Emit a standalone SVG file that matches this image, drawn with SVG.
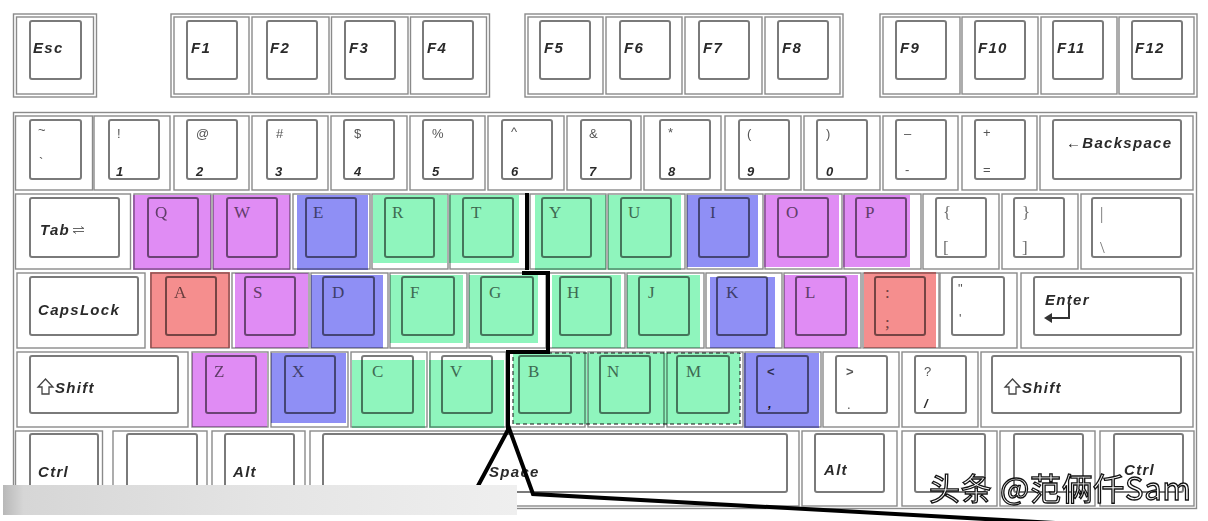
<svg xmlns="http://www.w3.org/2000/svg" width="1208" height="521" viewBox="0 0 1208 521">
<defs>
<style>
.g{fill:#fff;stroke:#8a8a8a;stroke-width:1.4}
.o{fill:#fff;stroke:#8a8a8a;stroke-width:1.4}
.c{fill:#fff;stroke:#7a7a7a;stroke-width:2}
.kl{font-family:"Liberation Sans",Arial,sans-serif;font-weight:bold;font-style:italic;font-size:15px;letter-spacing:1.3px;fill:#2a2a2a}
.nm{font-family:"Liberation Sans",Arial,sans-serif;font-weight:bold;font-style:italic;font-size:13px;fill:#2a2a2a}
.sy{font-family:"Liberation Sans",Arial,sans-serif;font-size:13px;fill:#555}
.lt{font-family:"Liberation Serif","Times New Roman",serif;font-size:17px;fill:#6e6e6e}
.ov{mix-blend-mode:multiply}
.pu{fill:#e08cf4}.bl{fill:#8f8ff5}.gr{fill:#8ff5bd}.rd{fill:#f58e8e}
.ln{fill:none;stroke:#000;stroke-width:4;stroke-linejoin:miter}
.ic{fill:none;stroke:#444;stroke-width:1.3}
</style>
<linearGradient id="bar" x1="0" x2="1" y1="0" y2="0">
<stop offset="0" stop-color="#b8b8b8"/>
<stop offset="0.04" stop-color="#d6d6d6"/>
<stop offset="0.5" stop-color="#e4e4e4"/>
<stop offset="1" stop-color="#efefef"/>
</linearGradient>
</defs>
<rect width="1208" height="521" fill="#fff"/>

<!-- Function row -->
<g id="key-esc"><rect class="g" x="13.5" y="14" width="83" height="83"/><rect class="o" x="16.5" y="17" width="77" height="77"/><rect class="c" x="30" y="21" width="51" height="58" rx="2"/><text class="kl" x="33" y="53">Esc</text></g>

<g id="fgroup1"><rect class="g" x="171" y="14" width="318.5" height="83"/>
<g id="key-f1"><rect class="o" x="174" y="17" width="75" height="77"/><rect class="c" x="187" y="21" width="50" height="58" rx="2"/><text class="kl" x="191" y="53">F1</text></g>
<g id="key-f2"><rect class="o" x="252" y="17" width="77" height="77"/><rect class="c" x="267" y="21" width="50" height="58" rx="2"/><text class="kl" x="270" y="53">F2</text></g>
<g id="key-f3"><rect class="o" x="331.5" y="17" width="76.5" height="77"/><rect class="c" x="345" y="21" width="50" height="58" rx="2"/><text class="kl" x="349" y="53">F3</text></g>
<g id="key-f4"><rect class="o" x="410.5" y="17" width="76" height="77"/><rect class="c" x="423" y="21" width="50" height="58" rx="2"/><text class="kl" x="427" y="53">F4</text></g>
</g>

<g id="fgroup2"><rect class="g" x="525" y="14" width="318" height="83"/>
<g id="key-f5"><rect class="o" x="528" y="17" width="75" height="77"/><rect class="c" x="540" y="21" width="50" height="58" rx="2"/><text class="kl" x="544" y="53">F5</text></g>
<g id="key-f6"><rect class="o" x="606" y="17" width="76" height="77"/><rect class="c" x="620" y="21" width="50" height="58" rx="2"/><text class="kl" x="624" y="53">F6</text></g>
<g id="key-f7"><rect class="o" x="685" y="17" width="77" height="77"/><rect class="c" x="699" y="21" width="50" height="58" rx="2"/><text class="kl" x="703" y="53">F7</text></g>
<g id="key-f8"><rect class="o" x="765" y="17" width="75" height="77"/><rect class="c" x="778" y="21" width="50" height="58" rx="2"/><text class="kl" x="782" y="53">F8</text></g>
</g>

<g id="fgroup3"><rect class="g" x="880" y="14" width="317" height="83"/>
<g id="key-f9"><rect class="o" x="883" y="17" width="77" height="77"/><rect class="c" x="896" y="21" width="50" height="58" rx="2"/><text class="kl" x="900" y="53">F9</text></g>
<g id="key-f10"><rect class="o" x="962" y="17" width="76" height="77"/><rect class="c" x="975" y="21" width="50" height="58" rx="2"/><text class="kl" x="978" y="53">F10</text></g>
<g id="key-f11"><rect class="o" x="1041" y="17" width="76" height="77"/><rect class="c" x="1053" y="21" width="50" height="58" rx="2"/><text class="kl" x="1057" y="53">F11</text></g>
<g id="key-f12"><rect class="o" x="1119" y="17" width="75" height="77"/><rect class="c" x="1132" y="21" width="50" height="58" rx="2"/><text class="kl" x="1135" y="53">F12</text></g>
</g>

<!-- Main block -->
<g id="mainblock"><rect class="g" x="13.5" y="112.5" width="1183" height="396"/></g>

<!-- Number row -->
<g id="key-tilde"><rect class="o" x="15.5" y="116" width="77" height="74"/><rect class="c" x="30" y="120" width="51" height="59" rx="2"/><text class="sy" x="38" y="134" font-size="11">~</text><text class="sy" x="39" y="167" font-size="9">`</text></g>
<g id="key-1"><rect class="o" x="94" y="116" width="76" height="74"/><rect class="c" x="109" y="120" width="50" height="59" rx="2"/><text class="sy" x="117" y="138">!</text><text class="nm" x="116" y="176">1</text></g>
<g id="key-2"><rect class="o" x="174" y="116" width="75" height="74"/><rect class="c" x="187" y="120" width="50" height="59" rx="2"/><text class="sy" x="196" y="138">@</text><text class="nm" x="196" y="176">2</text></g>
<g id="key-3"><rect class="o" x="252" y="116" width="76" height="74"/><rect class="c" x="267" y="120" width="50" height="59" rx="2"/><text class="sy" x="276" y="138">#</text><text class="nm" x="275" y="176">3</text></g>
<g id="key-4"><rect class="o" x="331" y="116" width="76" height="74"/><rect class="c" x="344" y="120" width="50" height="59" rx="2"/><text class="sy" x="354" y="138">$</text><text class="nm" x="354" y="176">4</text></g>
<g id="key-5"><rect class="o" x="410" y="116" width="75" height="74"/><rect class="c" x="423" y="120" width="50" height="59" rx="2"/><text class="sy" x="432" y="138">%</text><text class="nm" x="432" y="176">5</text></g>
<g id="key-6"><rect class="o" x="488" y="116" width="76" height="74"/><rect class="c" x="502" y="120" width="50" height="59" rx="2"/><text class="sy" x="511" y="136" font-size="11">^</text><text class="nm" x="511" y="176">6</text></g>
<g id="key-7"><rect class="o" x="567" y="116" width="74" height="74"/><rect class="c" x="581" y="120" width="50" height="59" rx="2"/><text class="sy" x="589" y="138">&amp;</text><text class="nm" x="589" y="176">7</text></g>
<g id="key-8"><rect class="o" x="644" y="116" width="77" height="74"/><rect class="c" x="660" y="120" width="50" height="59" rx="2"/><text class="sy" x="668" y="137" font-size="10">*</text><text class="nm" x="668" y="176">8</text></g>
<g id="key-9"><rect class="o" x="725" y="116" width="76" height="74"/><rect class="c" x="739" y="120" width="50" height="59" rx="2"/><text class="sy" x="747" y="138">(</text><text class="nm" x="747" y="176">9</text></g>
<g id="key-0"><rect class="o" x="804" y="116" width="76" height="74"/><rect class="c" x="817" y="120" width="50" height="59" rx="2"/><text class="sy" x="826" y="138">)</text><text class="nm" x="826" y="176">0</text></g>
<g id="key-minus"><rect class="o" x="883" y="116" width="75" height="74"/><rect class="c" x="896" y="120" width="50" height="59" rx="2"/><text class="sy" x="904" y="138">–</text><text class="sy" x="905" y="174">-</text></g>
<g id="key-equal"><rect class="o" x="962" y="116" width="75" height="74"/><rect class="c" x="975" y="120" width="50" height="59" rx="2"/><text class="sy" x="983" y="137" font-size="12">+</text><text class="sy" x="983" y="174" font-size="12">=</text></g>
<g id="key-backspace"><rect class="o" x="1040" y="116" width="153" height="74"/><rect class="c" x="1053" y="120" width="128" height="59" rx="2"/><text class="kl" x="1066" y="148" font-size="12" letter-spacing="0.8"><tspan font-weight="normal" font-style="normal">←</tspan>Backspace</text></g>

<!-- Tab row -->
<g id="key-tab"><rect class="o" x="15.5" y="194" width="115" height="75"/><rect class="c" x="30" y="198" width="89" height="59" rx="2"/><text class="kl" x="40" y="235">Tab</text><path d="M73,228.5 h11 M81,226.5 l3,2 M73,231.5 h11 M76,233.5 l-3,-2" fill="none" stroke="#666" stroke-width="1"/></g>
<g id="key-q"><rect class="o" x="134" y="194" width="77" height="75"/><rect class="c" x="148" y="198" width="50" height="59" rx="2"/><text class="lt" x="155" y="218">Q</text><rect class="ov pu" x="133" y="195" width="78" height="75"/></g>
<g id="key-w"><rect class="o" x="213" y="194" width="77" height="75"/><rect class="c" x="227" y="198" width="50" height="59" rx="2"/><text class="lt" x="234" y="218">W</text><rect class="ov pu" x="213" y="195" width="77" height="75"/></g>
<g id="key-e"><rect class="o" x="293" y="194" width="77" height="75"/><rect class="c" x="306" y="198" width="50" height="59" rx="2"/><text class="lt" x="313" y="218">E</text><rect class="ov bl" x="297" y="195" width="71" height="75"/></g>
<g id="key-r"><rect class="o" x="372" y="194" width="76" height="75"/><rect class="c" x="385" y="198" width="49" height="59" rx="2"/><text class="lt" x="392" y="218">R</text><rect class="ov gr" x="373" y="195" width="74" height="68"/></g>
<g id="key-t"><rect class="o" x="450" y="194" width="77" height="75"/><rect class="c" x="463" y="198" width="50" height="59" rx="2"/><text class="lt" x="471" y="218">T</text><rect class="ov gr" x="449" y="195" width="70" height="68"/></g>
<g id="key-y"><rect class="o" x="530" y="194" width="76" height="75"/><rect class="c" x="542" y="198" width="49" height="59" rx="2"/><text class="lt" x="549" y="218">Y</text><rect class="ov gr" x="535" y="195" width="71" height="75"/></g>
<g id="key-u"><rect class="o" x="608" y="194" width="77" height="75"/><rect class="c" x="621" y="198" width="50" height="59" rx="2"/><text class="lt" x="628" y="218">U</text><rect class="ov gr" x="608" y="195" width="73" height="75"/></g>
<g id="key-i"><rect class="o" x="687" y="194" width="76" height="75"/><rect class="c" x="699" y="198" width="50" height="59" rx="2"/><text class="lt" x="710" y="218">I</text><rect class="ov bl" x="687" y="195" width="71" height="72"/></g>
<g id="key-o"><rect class="o" x="765" y="194" width="77" height="75"/><rect class="c" x="778" y="198" width="50" height="59" rx="2"/><text class="lt" x="786" y="218">O</text><rect class="ov pu" x="764" y="195" width="75" height="72"/></g>
<g id="key-p"><rect class="o" x="844" y="194" width="77" height="75"/><rect class="c" x="856" y="198" width="50" height="59" rx="2"/><text class="lt" x="865" y="218">P</text><rect class="ov pu" x="843" y="195" width="67" height="72"/></g>
<g id="key-lbrace"><rect class="o" x="923" y="194" width="76" height="75"/><rect class="c" x="936" y="198" width="50" height="59" rx="2"/><text class="lt" x="943" y="218">{</text><text class="lt" x="943" y="253">[</text></g>
<g id="key-rbrace"><rect class="o" x="1002" y="194" width="76" height="75"/><rect class="c" x="1014" y="198" width="50" height="59" rx="2"/><text class="lt" x="1022" y="218">}</text><text class="lt" x="1022" y="253">]</text></g>
<g id="key-pipe"><rect class="o" x="1081" y="194" width="112" height="75"/><rect class="c" x="1092" y="198" width="89" height="59" rx="2"/><text class="lt" x="1100" y="219">|</text><text class="lt" x="1100" y="253">\</text></g>

<!-- Caps row -->
<g id="key-caps"><rect class="o" x="17" y="273" width="128" height="75"/><rect class="c" x="30" y="277" width="108" height="58" rx="2"/><text class="kl" x="38" y="315" font-size="16" letter-spacing="0.8">CapsLock</text></g>
<g id="key-a"><rect class="o" x="151" y="273" width="78" height="75"/><rect class="c" x="166" y="277" width="50" height="58" rx="2"/><text class="lt" x="174" y="298">A</text><rect class="ov rd" x="150" y="272" width="80" height="76"/></g>
<g id="key-s"><rect class="o" x="232" y="273" width="77" height="75"/><rect class="c" x="245" y="277" width="50" height="58" rx="2"/><text class="lt" x="253" y="298">S</text><rect class="ov pu" x="235" y="273" width="73" height="75"/></g>
<g id="key-d"><rect class="o" x="311" y="273" width="77" height="75"/><rect class="c" x="323" y="277" width="51" height="58" rx="2"/><text class="lt" x="332" y="298">D</text><rect class="ov bl" x="311" y="275" width="72" height="73"/></g>
<g id="key-f"><rect class="o" x="390" y="273" width="77" height="75"/><rect class="c" x="402" y="277" width="52" height="58" rx="2"/><text class="lt" x="410" y="298">F</text><rect class="ov gr" x="390" y="275" width="73" height="68"/></g>
<g id="key-g"><rect class="o" x="469" y="273" width="77" height="75"/><rect class="c" x="481" y="277" width="52" height="58" rx="2"/><text class="lt" x="489" y="298">G</text><rect class="ov gr" x="469" y="275" width="69" height="68"/></g>
<g id="key-h"><rect class="o" x="549" y="273" width="76" height="75"/><rect class="c" x="560" y="277" width="51" height="58" rx="2"/><text class="lt" x="567" y="298">H</text><rect class="ov gr" x="552" y="275" width="69" height="73"/></g>
<g id="key-j"><rect class="o" x="627" y="273" width="77" height="75"/><rect class="c" x="639" y="277" width="50" height="58" rx="2"/><text class="lt" x="648" y="298">J</text><rect class="ov gr" x="627" y="275" width="73" height="73"/></g>
<g id="key-k"><rect class="o" x="706" y="273" width="76" height="75"/><rect class="c" x="717" y="277" width="50" height="58" rx="2"/><text class="lt" x="726" y="298">K</text><rect class="ov bl" x="710" y="277" width="65" height="71"/></g>
<g id="key-l"><rect class="o" x="784" y="273" width="77" height="75"/><rect class="c" x="796" y="277" width="50" height="58" rx="2"/><text class="lt" x="805" y="298">L</text><rect class="ov pu" x="784" y="275" width="74" height="73"/></g>
<g id="key-semicolon"><rect class="o" x="863" y="273" width="76" height="75"/><rect class="c" x="875" y="277" width="50" height="58" rx="2"/><text class="lt" x="885" y="298" font-size="14">:</text><text class="lt" x="885" y="328" font-size="14">;</text><rect class="ov rd" x="864" y="272" width="72" height="76"/></g>
<g id="key-quote"><rect class="o" x="940" y="273" width="77" height="75"/><rect class="c" x="952" y="277" width="52" height="58" rx="2"/><text class="sy" x="958" y="293" font-size="10">"</text><text class="sy" x="959" y="323" font-size="10">'</text></g>
<g id="key-enter"><rect class="o" x="1021" y="273" width="172" height="75"/><rect class="c" x="1034" y="277" width="147" height="58" rx="2"/><text class="kl" x="1045" y="305" font-size="16" letter-spacing="1">Enter</text><path d="M1069,304 V318 H1050" fill="none" stroke="#333" stroke-width="2"/><path d="M1044,318 L1052,313 L1052,323 Z" fill="#333"/></g>

<!-- Shift row -->
<g id="key-lshift"><rect class="o" x="17" y="352" width="171" height="75"/><rect class="c" x="30" y="356" width="148" height="57" rx="2"/><path class="ic" d="M45.5,379 L53,387 L49,387 L49,394 L42,394 L42,387 L38,387 Z"/><text class="kl" x="55" y="393" font-size="16" letter-spacing="1">Shift</text></g>
<g id="key-z"><rect class="o" x="192" y="352" width="76" height="75"/><rect class="c" x="206" y="356" width="50" height="57" rx="2"/><text class="lt" x="214" y="377">Z</text><rect class="ov pu" x="192" y="353" width="75" height="74"/></g>
<g id="key-x"><rect class="o" x="271" y="352" width="77" height="75"/><rect class="c" x="285" y="356" width="50" height="57" rx="2"/><text class="lt" x="292" y="377">X</text><rect class="ov bl" x="271" y="353" width="75" height="70"/></g>
<g id="key-c"><rect class="o" x="351" y="352" width="76" height="75"/><rect class="c" x="362" y="356" width="51" height="57" rx="2"/><text class="lt" x="372" y="377">C</text><rect class="ov gr" x="352" y="360" width="73" height="68"/></g>
<g id="key-v"><rect class="o" x="430" y="352" width="76" height="75"/><rect class="c" x="442" y="356" width="50" height="57" rx="2"/><text class="lt" x="450" y="377">V</text><rect class="ov gr" x="429" y="360" width="75" height="68"/></g>
<g id="key-b"><rect class="o" x="509" y="352" width="76" height="75"/><rect class="c" x="519" y="356" width="52" height="57" rx="2"/><text class="lt" x="528" y="377">B</text><rect class="ov gr" x="513" y="353" width="75" height="71"/></g>
<g id="key-n"><rect class="o" x="588" y="352" width="76" height="75"/><rect class="c" x="600" y="356" width="50" height="57" rx="2"/><text class="lt" x="607" y="377">N</text><rect class="ov gr" x="588" y="353" width="77" height="71"/></g>
<g id="key-m"><rect class="o" x="667" y="352" width="76" height="75"/><rect class="c" x="677" y="356" width="52" height="57" rx="2"/><text class="lt" x="686" y="377">M</text><rect class="ov gr" x="665" y="353" width="75" height="71"/></g>
<g id="key-comma"><rect class="o" x="745" y="352" width="76" height="75"/><rect class="c" x="757" y="356" width="51" height="57" rx="2"/><text class="sy" x="767" y="376" font-weight="bold">&lt;</text><text class="nm" x="768" y="408">,</text><rect class="ov bl" x="744" y="353" width="75" height="75"/></g>
<g id="key-period"><rect class="o" x="823" y="352" width="76" height="75"/><rect class="c" x="836" y="356" width="51" height="57" rx="2"/><text class="sy" x="846" y="376" font-weight="bold">&gt;</text><text class="sy" x="847" y="409">.</text></g>
<g id="key-slash"><rect class="o" x="902" y="352" width="76" height="75"/><rect class="c" x="915" y="356" width="51" height="57" rx="2"/><text class="sy" x="924" y="376">?</text><text class="nm" x="924" y="408" font-weight="normal">/</text></g>
<g id="key-rshift"><rect class="o" x="981" y="352" width="212" height="75"/><rect class="c" x="992" y="356" width="189" height="57" rx="2"/><path class="ic" d="M1012.5,379 L1020,387 L1016,387 L1016,394 L1009,394 L1009,387 L1005,387 Z"/><text class="kl" x="1022" y="393" font-size="16" letter-spacing="1">Shift</text></g>

<!-- Bottom row -->
<g id="key-lctrl"><rect class="o" x="15.5" y="431" width="87" height="75"/><rect class="c" x="30" y="434" width="68" height="58" rx="2"/><text class="kl" x="38" y="477">Ctrl</text></g>
<g id="key-lwin"><rect class="o" x="113" y="431" width="94" height="75"/><rect class="c" x="127" y="434" width="70" height="58" rx="2"/></g>
<g id="key-lalt"><rect class="o" x="212" y="431" width="93" height="75"/><rect class="c" x="225" y="434" width="69" height="58" rx="2"/><text class="kl" x="233" y="477">Alt</text></g>
<g id="key-space"><rect class="o" x="310" y="431" width="489" height="75"/><rect class="c" x="323" y="434" width="464" height="58" rx="2"/><text class="kl" x="489" y="477" font-size="16">Space</text></g>
<g id="key-ralt"><rect class="o" x="802" y="431" width="95" height="75"/><rect class="c" x="815" y="434" width="69" height="58" rx="2"/><text class="kl" x="824" y="475">Alt</text></g>
<g id="key-rwin"><rect class="o" x="902" y="431" width="95" height="75"/><rect class="c" x="915" y="434" width="70" height="58" rx="2"/></g>
<g id="key-menu"><rect class="o" x="1000" y="431" width="95" height="75"/><rect class="c" x="1014" y="434" width="69" height="58" rx="2"/></g>
<g id="key-rctrl"><rect class="o" x="1100" y="431" width="94" height="75"/><rect class="c" x="1114" y="434" width="69" height="58" rx="2"/><text class="kl" x="1124" y="475">Ctrl</text></g>

<!-- Dashed selection -->
<g id="selection"><rect x="513" y="353" width="227" height="71" fill="none" stroke="#111" stroke-width="1" stroke-dasharray="4,3"/></g>

<!-- Connectors -->
<g id="connectors">
<path class="ln" d="M527,193 V270"/>
<path class="ln" d="M522,273 H548 V352 H508 V429"/>
<path class="ln" d="M472,497 L509,428 L533,494 L1110,526"/>
</g>

<!-- Blur bar -->
<g id="blurbar"><rect x="3" y="485" width="514" height="30" fill="url(#bar)"/></g>

<!-- Watermark -->
<g id="watermark"><text x="929" y="500" font-family="'Noto Sans CJK SC','Noto Sans',sans-serif" font-size="31" fill="#fff" stroke="#111" stroke-width="1.3" textLength="262">头条 @范俩仟Sam</text></g>
</svg>
